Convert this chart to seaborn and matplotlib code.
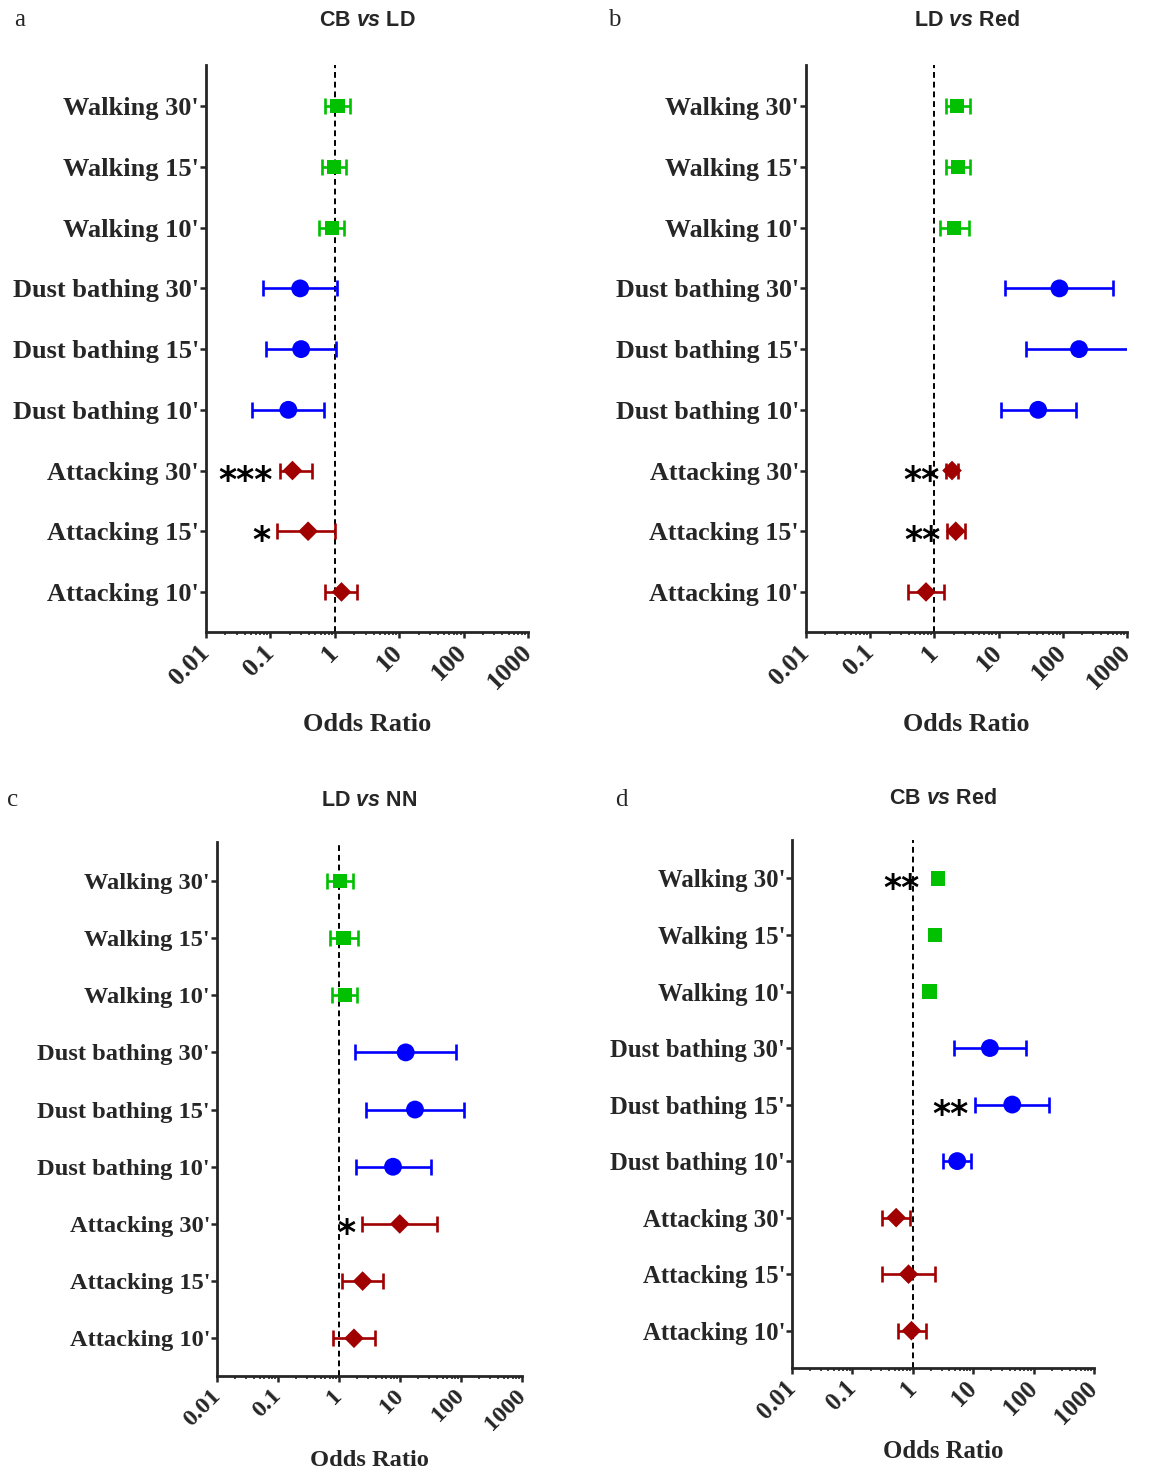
"""
Forest plots of odds ratios (95% CI) for four pairwise comparisons.
"""
import matplotlib.pyplot as plt
import seaborn as sns
import numpy as np
import pandas as pd

labels = ["Walking 30'", "Walking 15'", "Walking 10'",
          "Dust bathing 30'", "Dust bathing 15'", "Dust bathing 10'",
          "Attacking 30'", "Attacking 15'", "Attacking 10'"]
behaviour = ['Walking'] * 3 + ['Dust bathing'] * 3 + ['Attacking'] * 3

# a: CB vs LD
a_or = [1.10, 0.97, 0.90, 0.29, 0.30, 0.19, 0.22, 0.385, 1.27]
a_lo = [0.71, 0.63, 0.56, 0.076, 0.085, 0.052, 0.14, 0.128, 0.71]
a_hi = [1.71, 1.48, 1.41, 1.07, 1.06, 0.67, 0.44, 1.00, 2.20]
a_sig = ['', '', '', '', '', '', '***', '*', '']

# b: LD vs Red
b_or = [2.28, 2.33, 2.02, 88.6, 179, 41.3, 1.88, 2.15, 0.74]
b_lo = [1.49, 1.53, 1.21, 12.7, 27, 10.8, 1.53, 1.58, 0.39]
b_hi = [3.57, 3.61, 3.40, 616, 1100, 158, 2.33, 2.98, 1.40]
b_sig = ['', '', '', '', '', '', '**', '**', '']

# c: LD vs NN
c_or = [1.05, 1.19, 1.24, 12.4, 17.6, 7.68, 9.9, 2.44, 1.76]
c_lo = [0.64, 0.72, 0.78, 1.83, 2.74, 1.88, 2.41, 1.13, 0.81]
c_hi = [1.70, 2.05, 1.97, 82.8, 113, 32.2, 39.9, 5.2, 3.89]
c_sig = ['', '', '', '', '', '', '*', '', '']

# d: CB vs Red (walking CIs not shown)
d_or = [2.6, 2.34, 1.89, 18.9, 44.3, 5.43, 0.53, 0.85, 0.95]
d_lo = [np.nan, np.nan, np.nan, 4.72, 10.8, 3.14, 0.31, 0.31, 0.56]
d_hi = [np.nan, np.nan, np.nan, 75.6, 182, 9.15, 0.91, 2.32, 1.64]
d_sig = ['**', '', '', '', '**', '', '', '', '']

titles = ['CB $\\it{vs}$ LD', 'LD $\\it{vs}$ Red', 'LD $\\it{vs}$ NN', 'CB $\\it{vs}$ Red']
letters = ['a', 'b', 'c', 'd']
xticks = [0.01, 0.1, 1, 10, 100, 1000]
xticklabels = ['0.01', '0.1', '1', '10', '100', '1000']

colors = {'Walking': '#00C000', 'Dust bathing': '#0000FF', 'Attacking': '#A00000'}
markers = {'Walking': 's', 'Dust bathing': 'o', 'Attacking': 'D'}
sizes = {'Walking': 105, 'Dust bathing': 165, 'Attacking': 100}

sns.set_style('ticks')
plt.rcParams['mathtext.fontset'] = 'custom'
plt.rcParams['mathtext.it'] = 'Liberation Sans:italic:bold'
plt.rcParams['mathtext.rm'] = 'Liberation Sans:bold'

W, H = 1151, 1474
fig = plt.figure(figsize=(W / 100, H / 100), dpi=100)

# axes boxes in pixels: left, top, right, bottom
boxes = [(206, 65, 528, 632), (806, 65, 1127, 632),
         (217, 842, 522, 1376), (792, 840, 1094, 1368)]
fsizes = [19, 18.7, 17.6, 17.8]
letter_xy = [(20, 20), (614, 20), (13, 800), (621, 800)]
title_y = [20, 20, 800, 798]
xlabel_y = [-0.142, -0.142, -0.138, -0.137]

panels = [(a_or, a_lo, a_hi, a_sig), (b_or, b_lo, b_hi, b_sig),
          (c_or, c_lo, c_hi, c_sig), (d_or, d_lo, d_hi, d_sig)]

for k, (vals, lo, hi, sig) in enumerate(panels):
    l, t, r, b = boxes[k]
    ax = fig.add_axes([l / W, 1 - b / H, (r - l) / W, (b - t) / H])
    df = pd.DataFrame({'label': labels, 'behaviour': behaviour,
                       'or': vals, 'lo': lo, 'hi': hi, 'sig': sig})
    df['pos'] = len(df) - 1 - np.arange(len(df))

    ax.axvline(1, color='black', ls=(0, (3, 2)), lw=1.4, zorder=1)

    for beh, g in df.dropna(subset=['lo']).groupby('behaviour'):
        ax.errorbar(g['or'], g['pos'],
                    xerr=[g['or'] - g['lo'], g['hi'] - g['or']],
                    fmt='none', ecolor=colors[beh], elinewidth=1.9,
                    capsize=5.5, capthick=1.9, zorder=2)

    sns.scatterplot(data=df, x='or', y='pos', hue='behaviour', style='behaviour',
                    size='behaviour', palette=colors, markers=markers, sizes=sizes,
                    linewidth=0, legend=False, zorder=3, ax=ax)

    # significance stars to the left of each CI
    for _, row in df[df['sig'] != ''].iterrows():
        if np.isnan(row['lo']):
            x0, dx = row['or'], -13
        else:
            x0, dx = row['lo'], -5
        ax.annotate(row['sig'], xy=(x0, row['pos']), xytext=(dx, -14.5),
                    textcoords='offset points', ha='right', va='baseline',
                    fontsize=25, fontweight='bold', family='DejaVu Sans',
                    color='black')

    ax.set_xscale('log')
    ax.set_xlim(0.01, 1000)
    ax.set_ylim(-0.66, 8.68)
    ax.set_xticks(xticks)
    ax.set_xticklabels(xticklabels, rotation=45, ha='right', va='center',
                       rotation_mode='anchor', fontsize=fsizes[k],
                       fontweight='bold', family='Liberation Serif')
    ax.set_yticks(df['pos'])
    ax.set_yticklabels(df['label'], fontsize=fsizes[k], fontweight='bold',
                       family='Liberation Serif')
    ax.tick_params(axis='both', which='major', direction='out', width=1.8, length=4)
    ax.tick_params(axis='x', which='major', pad=8)
    ax.tick_params(axis='y', which='major', pad=1)
    ax.tick_params(axis='x', which='minor', direction='out', width=1.2, length=2.5)
    ax.tick_params(axis='y', which='minor', left=False)
    for s in ['left', 'bottom']:
        ax.spines[s].set_linewidth(2)
    sns.despine(ax=ax)

    ax.set_xlabel('Odds Ratio', fontsize=fsizes[k], fontweight='bold',
                  family='Liberation Serif')
    ax.xaxis.set_label_coords(0.5, xlabel_y[k])
    ax.set_ylabel('')

    fig.text((l + r) / 2 / W, 1 - title_y[k] / H, titles[k], ha='center', va='center',
             fontsize=15.5, fontweight='bold', family='Liberation Sans')
    lx, ly = letter_xy[k]
    fig.text(lx / W, 1 - ly / H, letters[k], ha='center', va='center',
             fontsize=18, family='Liberation Serif')

fig.savefig('out.png', dpi=100)
